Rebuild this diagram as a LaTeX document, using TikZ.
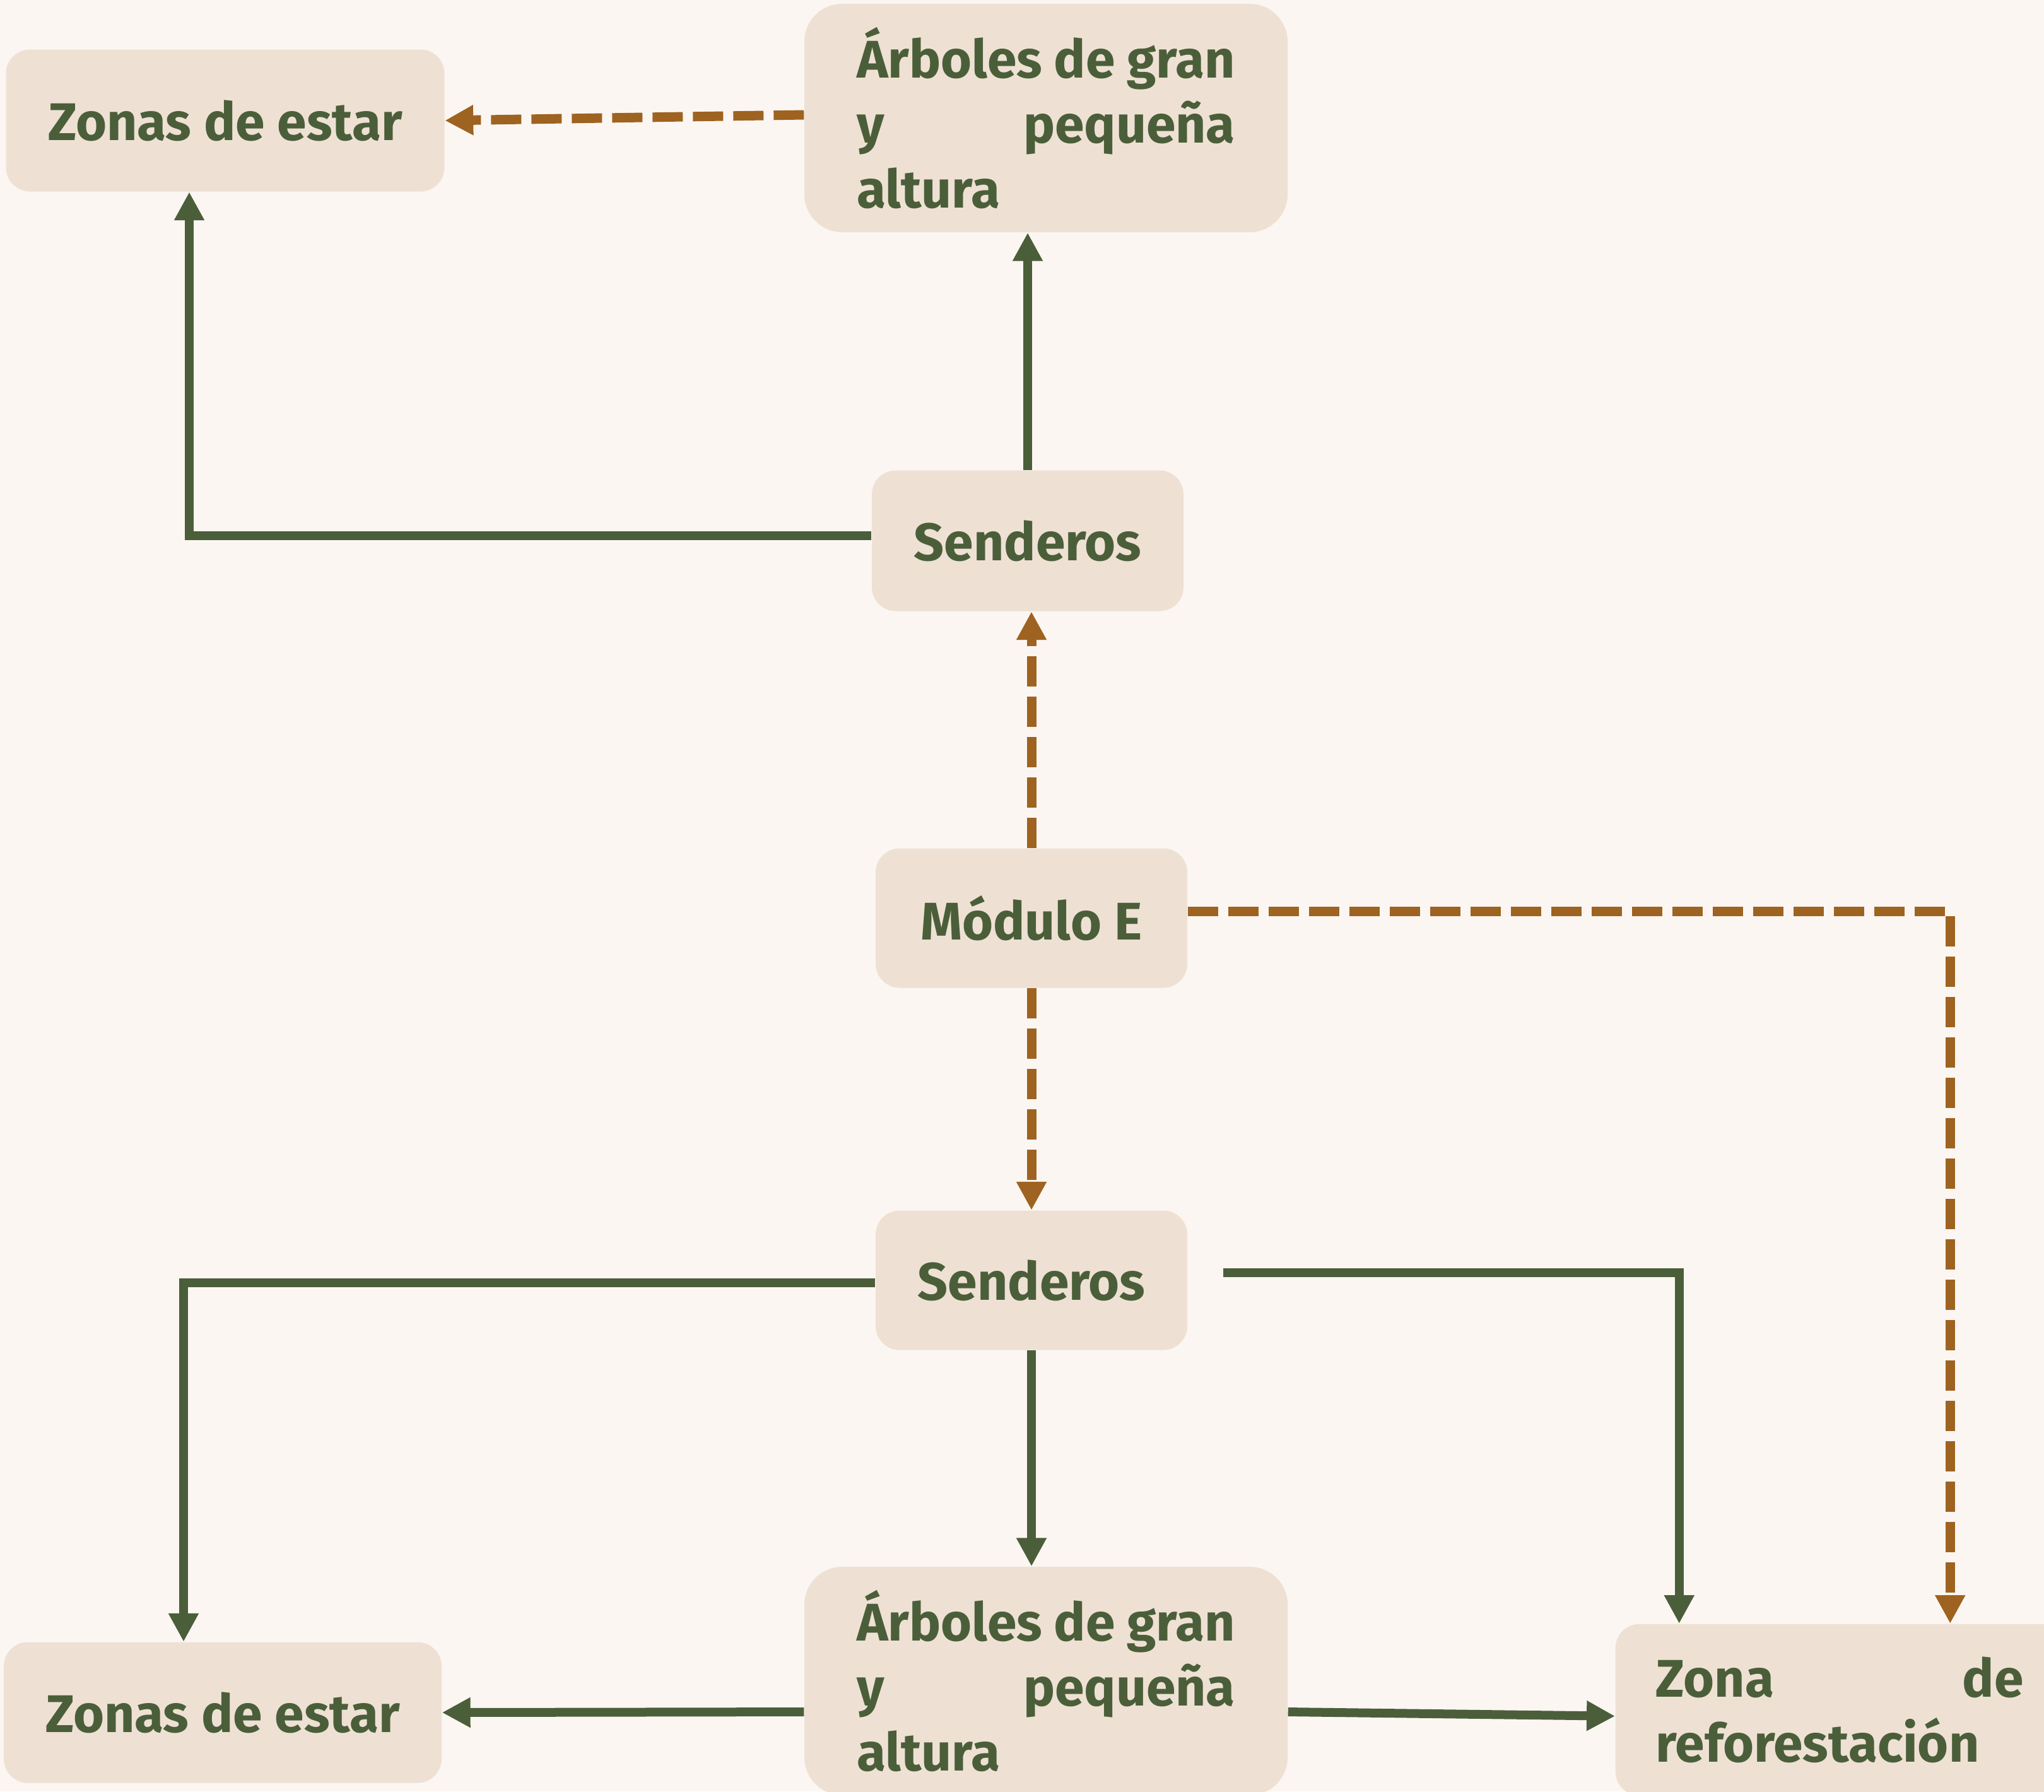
\documentclass[tikz,border=0pt]{standalone}
\usepackage{fontspec}
\setmainfont{Fira Sans}
\usepackage{xcolor}
\definecolor{parkbg}{HTML}{FBF6F2}
\definecolor{parkbox}{HTML}{EEE1D3}
\definecolor{parkgreen}{HTML}{4B5E3A}
\definecolor{parkbrown}{HTML}{9E6320}
\usetikzlibrary{arrows.meta, positioning, calc}
\newcommand{\spreadline}[3]{% width, left word, right word
  \hbox to #1{#2\hfill #3}%
}
\tikzset{
  zone/.style={fill=parkbox, rounded corners=0.38cm, text=parkgreen, inner sep=0pt,
    font=\fontsize{23.9}{29.3}\selectfont\bfseries},
  bigzone/.style={zone, rounded corners=0.6cm, align=left, inner xsep=0.83cm,
    minimum height=3.62cm},
  greenlink/.style={draw=parkgreen, line width=0.14cm,
    -{Triangle[length=0.45cm, width=0.45cm]}},
  dashlink/.style={draw=parkbrown, line width=0.15cm, dash pattern=on 0.48cm off 0.16cm,
    -{Triangle[length=0.45cm, width=0.45cm]}}
}

\begin{document}
\begin{tikzpicture}
  \useasboundingbox (0,0) rectangle (32.4,-28.39);
  \fill[parkbg] (0,0) rectangle (32.4,-28.39);

  % Upper branch
  \node[zone, minimum width=6.95cm, minimum height=2.25cm] (zonasA) at (3.57,-1.91) {Zonas de estar};
  \node[bigzone] (arbolA) at (16.58,-1.87)
    {\spreadline{6cm}{Árboles de gran}{}\\ \spreadline{6cm}{y}{pequeña}\\ altura};
  \node[zone, minimum width=4.94cm, minimum height=2.23cm] (sendA) at (16.29,-8.57) {Senderos};

  % Module
  \node[zone, minimum width=4.94cm, minimum height=2.21cm] (modulo) at (16.35,-14.55) {Módulo E};

  % Lower branch
  \node[zone, minimum width=4.94cm, minimum height=2.21cm] (sendB) at (16.35,-20.29) {Senderos};
  \node[zone, minimum width=6.94cm, minimum height=2.23cm] (zonasB) at (3.53,-27.14) {Zonas de estar};
  \node[bigzone] (arbolB) at (16.58,-26.64)
    {\spreadline{6cm}{Árboles de gran}{}\\ \spreadline{6cm}{y}{pequeña}\\ altura};
  \node[zone, align=left, inner xsep=0.64cm, minimum height=2.72cm, anchor=north west] (zonaR)
    at (25.60,-25.73) {\spreadline{5.83cm}{Zona}{de}\\ reforestación};

  % Connectors
  \draw[dashlink] ([yshift=0.05cm]arbolA.west) -- (zonasA.east);
  \draw[greenlink] ([yshift=0.08cm]sendA.west) -| ([xshift=-0.57cm]zonasA.south);
  \draw[greenlink] (sendA.north) -- (sendA.north |- arbolA.south);
  \draw[dashlink] (modulo.north) -- (modulo.north |- sendA.south);
  \draw[dashlink] (modulo.south) -- (modulo.south |- sendB.north);
  \draw[dashlink] ([yshift=0.11cm]modulo.east) -| ([xshift=1.75cm]zonaR.north);
  \draw[greenlink] ([yshift=-0.04cm]sendB.west) -| ([xshift=-0.62cm]zonasB.north);
  \draw[greenlink, shorten <=0.56cm] ([yshift=0.12cm]sendB.east) -| ([xshift=-2.545cm]zonaR.north);
  \draw[greenlink] (sendB.south) -- (sendB.south |- arbolB.north);
  \draw[greenlink] ([yshift=-0.49cm]arbolB.west) -- (zonasB.east);
  \draw[greenlink] ([yshift=-0.49cm]arbolB.east) -- ([yshift=-0.1cm]zonaR.west);
\end{tikzpicture}
\end{document}
